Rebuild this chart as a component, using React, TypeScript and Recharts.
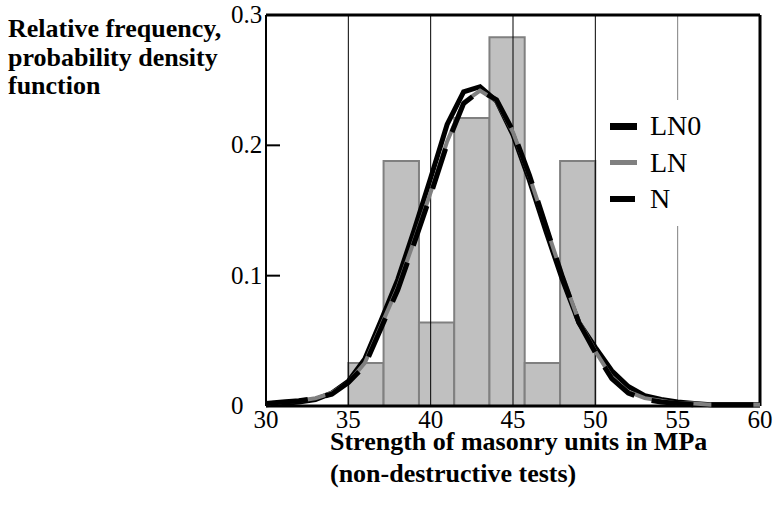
import React from "react";
import {
  ComposedChart,
  Line,
  XAxis,
  YAxis,
  ReferenceArea,
  ReferenceLine,
  Legend,
} from "recharts";

// strength of masonry units (MPa) where the fitted curves were sampled
const strength = [
  30, 31, 32, 33, 34, 35, 36, 37, 38, 39, 40, 41, 42, 43, 44, 45, 46, 47, 48,
  49, 50, 51, 52, 53, 54, 55, 56, 57, 58, 59, 60,
];

// probability density functions
const ln0 = [
  0.001, 0.002, 0.003, 0.005, 0.01, 0.019, 0.036, 0.066, 0.097, 0.135, 0.175,
  0.216, 0.241, 0.245, 0.234, 0.208, 0.173, 0.134, 0.097, 0.064, 0.045, 0.027,
  0.015, 0.008, 0.005, 0.003, 0.002, 0.001, 0.001, 0.001, 0.001,
];
const ln = [
  0.002, 0.003, 0.004, 0.006, 0.01, 0.018, 0.033, 0.062, 0.091, 0.127, 0.164,
  0.203, 0.233, 0.242, 0.234, 0.21, 0.176, 0.138, 0.1, 0.065, 0.042, 0.022,
  0.011, 0.006, 0.004, 0.002, 0.002, 0.001, 0.001, 0.001, 0.001,
];
const normal = [
  0.002, 0.003, 0.004, 0.006, 0.009, 0.018, 0.031, 0.06, 0.089, 0.125, 0.162,
  0.201, 0.232, 0.242, 0.235, 0.211, 0.177, 0.138, 0.099, 0.064, 0.041, 0.021,
  0.01, 0.005, 0.003, 0.002, 0.001, 0.001, 0.001, 0.001, 0.001,
];

// histogram of the test results
const binEdges = [35, 37.14, 39.29, 41.43, 43.57, 45.71, 47.86, 50];
const relFreq = [0.033, 0.188, 0.064, 0.221, 0.283, 0.033, 0.188];

const xTicks = [30, 35, 40, 45, 50, 55, 60];
const yTicks = [0, 0.1, 0.2, 0.3];
const gridX = [35, 40, 45, 50, 55];

const series = [
  { key: "ln0", name: "LN0", color: "#000", width: 5, icon: 7 },
  { key: "ln", name: "LN", color: "#808080", width: 4, icon: 5 },
  { key: "n", name: "N", color: "#000", width: 5, icon: 6, dash: "42 18" },
];

const data = strength.map((x, i) => ({
  x,
  ln0: ln0[i],
  ln: ln[i],
  n: normal[i],
}));

const serif = '"Liberation Serif", "Times New Roman", serif';

function YTick({ x, y, payload }: any) {
  const v = payload.value;
  return (
    <g>
      {v > 0 && v < 0.3 && (
        <line x1={x} x2={x + 14} y1={y} y2={y} stroke="#000" strokeWidth={2} />
      )}
      <text
        x={x - 35}
        y={y}
        dy={8}
        textAnchor="start"
        fontFamily={serif}
        fontSize={25}
        fill="#000"
      >
        {v}
      </text>
    </g>
  );
}

function XTick({ x, y, payload }: any) {
  return (
    <text
      x={x}
      y={y}
      dy={22}
      textAnchor="middle"
      fontFamily={serif}
      fontSize={25}
      fill="#000"
    >
      {payload.value}
    </text>
  );
}

function LegendBox() {
  return (
    <div
      style={{
        paddingTop: 8,
        fontFamily: serif,
        fontSize: 28,
        color: "#000",
      }}
    >
      {series.map((s) => (
        <div
          key={s.key}
          style={{ display: "flex", alignItems: "center", height: 36.5 }}
        >
          <div
            style={{
              marginLeft: 10,
              width: s.dash ? 25 : 27,
              height: s.icon,
              background: s.color,
            }}
          />
          <span style={{ marginLeft: s.dash ? 15 : 13, lineHeight: 1 }}>
            {s.name}
          </span>
        </div>
      ))}
    </div>
  );
}

export default function App() {
  return (
    <div style={{ position: "relative", width: 774, height: 515 }}>
      <style>{"body{margin:0}"}</style>
      <ComposedChart
        width={774}
        height={515}
        data={data}
        margin={{ top: 15, right: 14, bottom: 0, left: 0 }}
      >
        <XAxis
          type="number"
          dataKey="x"
          domain={[30, 60]}
          ticks={xTicks}
          height={109}
          axisLine={false}
          tickLine={false}
          tickSize={0}
          tickMargin={0}
          tick={<XTick />}
        />
        <YAxis
          type="number"
          domain={[0, 0.3]}
          ticks={yTicks}
          width={266}
          axisLine={false}
          tickLine={false}
          tickSize={0}
          tickMargin={0}
          tick={<YTick />}
        />
        {relFreq.map((f, i) => (
          <ReferenceArea
            key={`bin-${i}`}
            x1={binEdges[i]}
            x2={binEdges[i + 1]}
            y1={0}
            y2={f}
            fill="#c0c0c0"
            fillOpacity={1}
            stroke="#808080"
            strokeWidth={2}
          />
        ))}
        {gridX.map((gx) => (
          <ReferenceLine
            key={`grid-${gx}`}
            x={gx}
            stroke={gx === 55 ? "#808080" : "#000"}
            strokeWidth={1}
          />
        ))}
        <ReferenceLine x={30} stroke="#000" strokeWidth={2} />
        <ReferenceLine x={60} stroke="#000" strokeWidth={3} />
        <ReferenceLine y={0.3} stroke="#000" strokeWidth={3} />
        <ReferenceLine y={0} stroke="#000" strokeWidth={3} />
        {series.map((s) => (
          <Line
            key={s.key}
            type="linear"
            dataKey={s.key}
            name={s.name}
            stroke={s.color}
            strokeWidth={s.width}
            strokeDasharray={s.dash}
            dot={false}
            activeDot={false}
            isAnimationActive={false}
          />
        ))}
        <Legend
          layout="vertical"
          align="center"
          verticalAlign="middle"
          wrapperStyle={{
            left: 600,
            top: 100,
            width: 118,
            height: 126,
            background: "#fff",
          }}
          content={() => <LegendBox />}
        />
      </ComposedChart>
      <div
        style={{
          position: "absolute",
          left: 8,
          top: 15,
          fontFamily: serif,
          fontWeight: "bold",
          fontSize: 26,
          lineHeight: "28.5px",
          color: "#000",
        }}
      >
        Relative frequency,
        <br />
        probability density
        <br />
        function
      </div>
      <div
        style={{
          position: "absolute",
          left: 330,
          top: 426,
          fontFamily: serif,
          fontWeight: "bold",
          fontSize: 26,
          lineHeight: "32px",
          color: "#000",
        }}
      >
        Strength of masonry units in MPa
        <br />
        (non-destructive tests)
      </div>
    </div>
  );
}
